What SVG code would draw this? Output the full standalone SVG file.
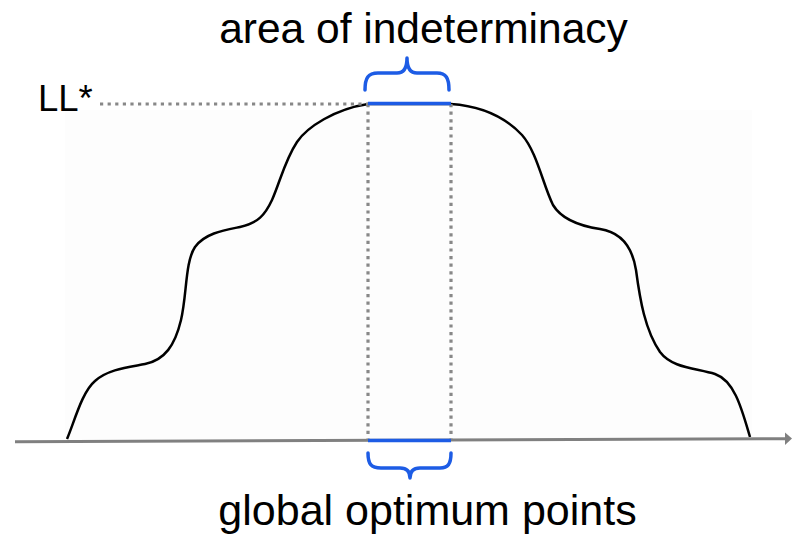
<svg xmlns="http://www.w3.org/2000/svg" width="792" height="537" viewBox="0 0 792 537">
<style>
  .lbl { font-family: "Liberation Sans", Arial, sans-serif; fill: #000; }
  .dot { fill: none; stroke: #888888; stroke-width: 3.2; stroke-dasharray: 3.2 4.4; }
  .blue { fill: none; stroke: #1d5ce5; stroke-width: 3.5; stroke-linecap: butt; stroke-linejoin: round; }
  .brace { fill: none; stroke: #1d5ce5; stroke-width: 3.5; stroke-linecap: round; stroke-linejoin: round; }
</style>
<rect x="0" y="0" width="792" height="537" fill="#ffffff"/>
<rect x="65" y="110" width="687" height="330" fill="#fdfdfd"/>
<g id="curve">
  <path d="M67,439 C75,420 82,392 95,381 C108,369 130,367 145,364 C165,360 175,345 181,320 C187,295 185,262 195,247 C205,233 225,230 240,227 C258,223 265,215 272,200 C280,182 285,160 297,142 C307,127 335,109 368,104 L451,104 C480,106 505,117 522,135 C537,152 543,185 553,205 C562,220 580,226 600,229 C620,232 632,245 636,270 C640,300 645,330 660,352 C672,368 695,368 715,374 C735,381 742,410 750,437" fill="none" stroke="#000" stroke-width="2.5"/>
</g>
<g id="connectors">
  <line class="dot" x1="100" y1="104" x2="368" y2="104"/>
  <line class="dot" x1="368" y1="104" x2="368" y2="440"/>
  <line class="dot" x1="451" y1="104" x2="451" y2="440"/>
  <line x1="15" y1="441.7" x2="786" y2="438.7" stroke="#808080" stroke-width="3"/>
  <polygon points="785,432.5 792,438.6 785,445" fill="#808080"/>
</g>
<g id="optimum-top">
  <line class="blue" x1="368" y1="103.5" x2="451" y2="103.5"/>
</g>
<g id="optimum-bottom">
  <line class="blue" x1="368" y1="440.5" x2="451" y2="440.5" stroke-width="4"/>
</g>
<g id="brace-top">
  <path class="brace" d="M365,90 C365,78 368,73 378,73 L397,73 C404,73 407,68 407,58 C407,68 410,73 417,73 L437,73 C446,73 449,78 449,90"/>
</g>
<g id="brace-bottom">
  <path class="brace" d="M368,453 C368,464 371,468 381,468 L400,468 C407,468 410,472 410,478 C410,472 413,468 420,468 L440,468 C448,468 451,464 451,453"/>
</g>
<g id="label-area">
  <text class="lbl" x="423.5" y="43" font-size="42.5" text-anchor="middle">area of indeterminacy</text>
</g>
<g id="label-global">
  <text class="lbl" x="427.5" y="525" font-size="43" text-anchor="middle">global optimum points</text>
</g>
<g id="label-ll">
  <text class="lbl" x="38" y="111" font-size="36.5">LL*</text>
</g>
</svg>
